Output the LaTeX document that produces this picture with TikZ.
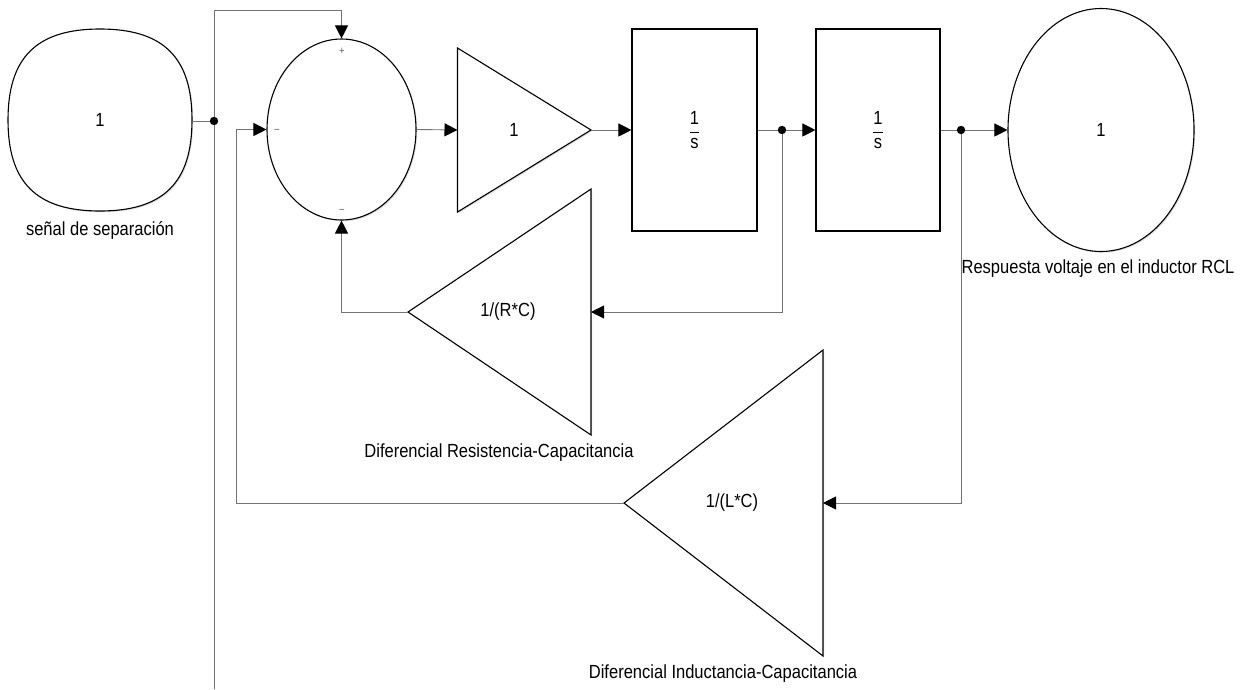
\documentclass[tikz,border=0pt]{standalone}
\usepackage{amsmath}
\usepackage{fontspec}
\setmainfont{Liberation Sans}[FakeStretch=0.87]
\usetikzlibrary{arrows.meta,shapes.geometric,shadows}
\begin{document}
\begin{tikzpicture}[x=1pt,y=-1pt,
  blk/.style={draw=black,line width=1.1pt,fill=white,
    drop shadow={shadow xshift=1.2pt,shadow yshift=-1.2pt,fill=black!25}},
  wire/.style={draw=black!55,line width=0.9pt},
  sig/.style={wire,-{Triangle[length=13pt,width=13pt,color=black]}},
  txt/.style={font=\fontsize{19}{22}\selectfont,inner sep=0pt},
  sgn/.style={font=\fontsize{11}{11}\selectfont,text=black!60,inner sep=0pt},
  jdot/.style={fill=black}
]
\useasboundingbox[fill=white] (0,0) rectangle (1246,689);

% coordinates
\coordinate (dot0) at (214,121);
\coordinate (ttop) at (214,10);
\coordinate (bot) at (214,689);
\coordinate (dot1) at (782,130);
\coordinate (dot2) at (961,130);
\coordinate (gin) at (457.5,130);
\coordinate (gout) at (591,130);
\coordinate (rcin) at (591,312);
\coordinate (rcout) at (408,312);
\coordinate (lcin) at (823,503);
\coordinate (lcout) at (624,503);
\coordinate (fbl) at (236,503);

% source block (squircle outline around a named node)
\draw[blk] (192,120) .. controls (192,182) and (164,211) .. (100,211)
  .. controls (36,211) and (8,182) .. (8,120)
  .. controls (8,58) and (36,29) .. (100,29)
  .. controls (164,29) and (192,58) .. (192,120) -- cycle;
\node[rectangle,minimum width=184pt,minimum height=182pt,txt] (src) at (100,120) {1};

% blocks (nodes)
\node[blk,ellipse,minimum width=149pt,minimum height=181pt,inner sep=0pt] (sum) at (341.5,129.5) {};
\node[blk,rectangle,minimum width=125pt,minimum height=202pt,txt] (int1) at (694.5,130) {$\dfrac{\mbox{1}}{\mbox{s}}$};
\node[blk,rectangle,minimum width=124pt,minimum height=202pt,txt] (int2) at (878,130) {$\dfrac{\mbox{1}}{\mbox{s}}$};
\node[blk,ellipse,minimum width=186pt,minimum height=243pt,txt] (out) at (1101,130) {1};

% triangles
\draw[blk] (457.5,48) -- (gout) -- (457.5,212) -- cycle;
\node[txt] (gtxt) at (514,130) {1};
\draw[blk] (591,189) -- (rcout) -- (591,435) -- cycle;
\node[txt] (rctxt) at (508,312) {1/(R*C)};
\draw[blk] (823,350) -- (lcout) -- (823,656) -- cycle;
\node[txt] (lctxt) at (732,503) {1/(L*C)};

% connectors
\draw[wire] (src.east |- dot0) -- (dot0);
\draw[wire] (bot) -- (ttop);
\draw[sig] (ttop) -| (sum.north);
\draw[sig] (sum.east) -- (gin);
\draw[sig] (gout) -- (int1.west);
\draw[wire] (int1.east) -- (dot1);
\draw[sig] (dot1) -- (int2.west);
\draw[wire] (int2.east) -- (dot2);
\draw[sig] (dot2) -- (out.west);
\draw[sig] (dot1) |- (rcin);
\draw[sig] (rcout) -| (sum.south);
\draw[sig] (dot2) |- (lcin);
\draw[sig] (lcout) -- (fbl) |- (sum.west);

% junction dots
\fill[jdot] (dot0) circle[radius=4.2pt];
\fill[jdot] (dot1) circle[radius=4.2pt];
\fill[jdot] (dot2) circle[radius=4.2pt];

% signs
\node[sgn] (splus) at (342,51) {+};
\node[sgn] (sminl) at (277,131) {\textminus};
\node[sgn] (sminb) at (342,211) {\textminus};

% labels
\node[txt] (lsrc) at (100,230) {señal de separación};
\node[txt] (lout) at (1098,269) {Respuesta voltaje en el inductor RCL};
\node[txt] (lrc) at (499,453) {Diferencial Resistencia-Capacitancia};
\node[txt] (llc) at (723,674) {Diferencial Inductancia-Capacitancia};
\end{tikzpicture}
\end{document}
